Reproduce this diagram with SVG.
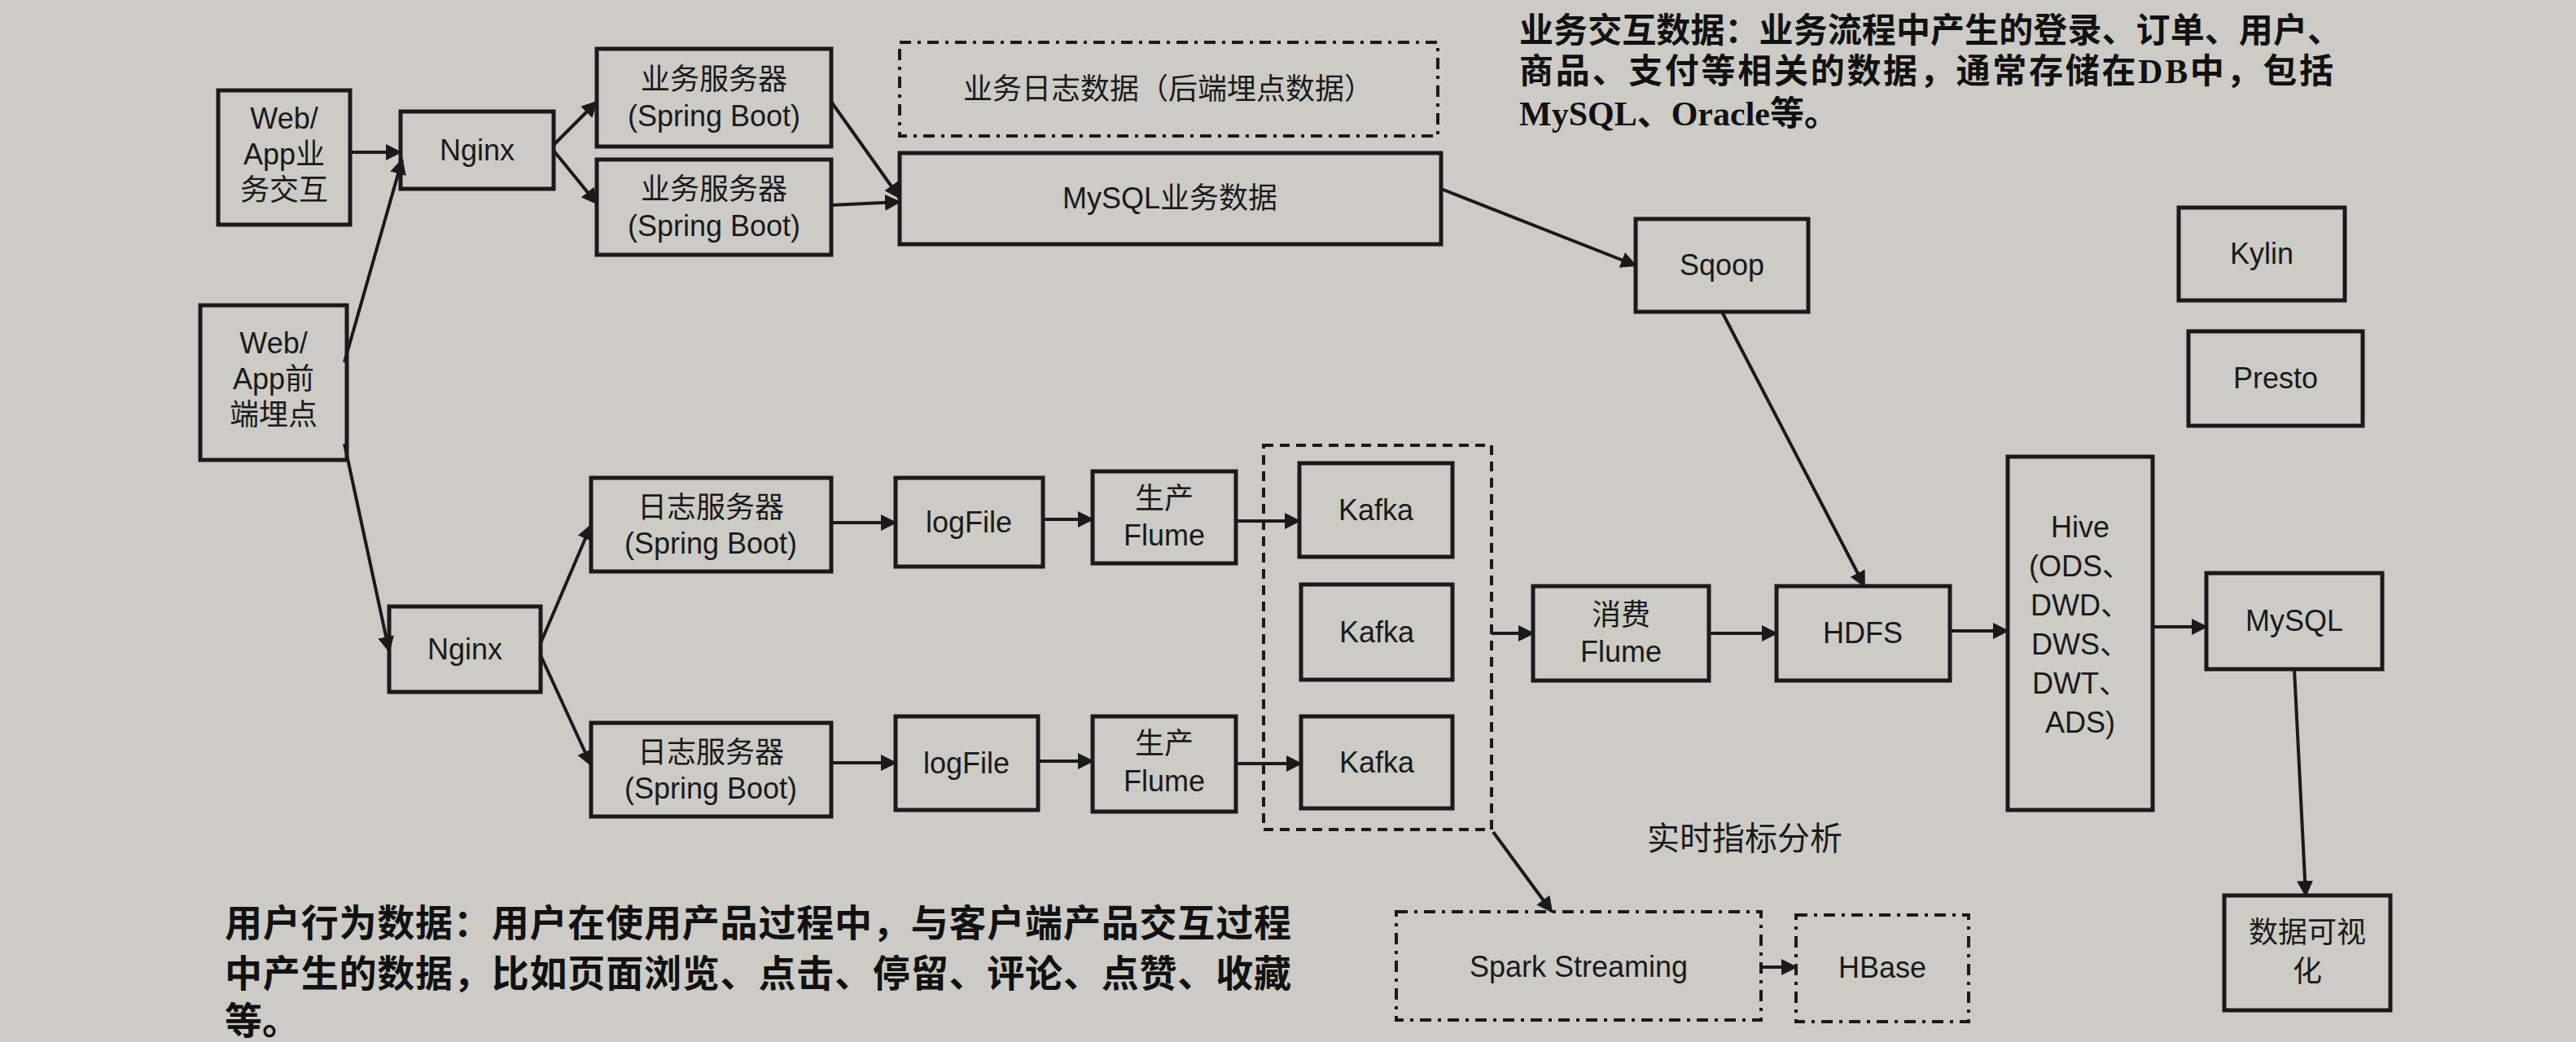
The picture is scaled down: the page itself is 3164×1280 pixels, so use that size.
<svg xmlns="http://www.w3.org/2000/svg" width="3164" height="1280" viewBox="0 0 3164 1280">
<style>
.b{fill:none;stroke:#1a1a1a;stroke-width:5}
.d{fill:none;stroke:#1a1a1a;stroke-width:4;stroke-dasharray:14 8 4 8}
.k{fill:none;stroke:#1a1a1a;stroke-width:4;stroke-dasharray:12 8}
.t{font-family:"Liberation Sans","Noto Sans CJK SC",sans-serif;font-size:36px;fill:#1a1a1a;text-anchor:middle}
.n{font-family:"Liberation Serif","Noto Sans CJK SC",serif;font-size:42px;font-weight:bold;fill:#111}
.c line{stroke:#1a1a1a;stroke-width:4;marker-end:url(#a)}
</style>
<defs><marker id="a" viewBox="0 0 10 10" refX="9" refY="5" markerWidth="5" markerHeight="5" orient="auto"><path d="M0,0L10,5L0,10z" fill="#1a1a1a"/></marker></defs>
<rect width="3164" height="1280" fill="#cdcbc6"/>
<g id="web1"><rect class="b" x="268" y="111" width="162" height="165"/><text class="t" x="349" y="158">Web/</text><text class="t" x="349" y="202">App业</text><text class="t" x="349" y="246">务交互</text></g>
<g id="web2"><rect class="b" x="246" y="375" width="180" height="190"/><text class="t" x="336" y="434">Web/</text><text class="t" x="336" y="478">App前</text><text class="t" x="336" y="522">端埋点</text></g>
<g id="nginx1"><rect class="b" x="492" y="137" width="188" height="95"/><text class="t" x="586" y="197">Nginx</text></g>
<g id="srv1"><rect class="b" x="733" y="60" width="288" height="120"/><text class="t" x="877" y="110">业务服务器</text><text class="t" x="877" y="155">(Spring Boot)</text></g>
<g id="srv2"><rect class="b" x="733" y="196" width="288" height="117"/><text class="t" x="877" y="245">业务服务器</text><text class="t" x="877" y="290">(Spring Boot)</text></g>
<g id="bizlog"><rect class="d" x="1105" y="52" width="661" height="115"/><text class="t" x="1435" y="122">业务日志数据（后端埋点数据）</text></g>
<g id="mysqlbiz"><rect class="b" x="1105" y="188" width="665" height="112"/><text class="t" x="1437" y="256">MySQL业务数据</text></g>
<g id="sqoop"><rect class="b" x="2009" y="269" width="212" height="114"/><text class="t" x="2115" y="338">Sqoop</text></g>
<g id="kylin"><rect class="b" x="2676" y="255" width="204" height="114"/><text class="t" x="2778" y="324">Kylin</text></g>
<g id="presto"><rect class="b" x="2688" y="407" width="214" height="116"/><text class="t" x="2795" y="477">Presto</text></g>
<g id="nginx2"><rect class="b" x="478" y="745" width="186" height="105"/><text class="t" x="571" y="810">Nginx</text></g>
<g id="log1"><rect class="b" x="726" y="587" width="295" height="115"/><text class="t" x="873" y="636">日志服务器</text><text class="t" x="873" y="680">(Spring Boot)</text></g>
<g id="lf1"><rect class="b" x="1100" y="587" width="181" height="109"/><text class="t" x="1190" y="654">logFile</text></g>
<g id="fl1"><rect class="b" x="1342" y="579" width="176" height="113"/><text class="t" x="1430" y="625">生产</text><text class="t" x="1430" y="670">Flume</text></g>
<g id="log2"><rect class="b" x="726" y="888" width="295" height="115"/><text class="t" x="873" y="937">日志服务器</text><text class="t" x="873" y="981">(Spring Boot)</text></g>
<g id="lf2"><rect class="b" x="1100" y="880" width="175" height="115"/><text class="t" x="1187" y="950">logFile</text></g>
<g id="fl2"><rect class="b" x="1342" y="880" width="176" height="117"/><text class="t" x="1430" y="926">生产</text><text class="t" x="1430" y="972">Flume</text></g>
<g id="kgroup"><rect class="k" x="1552" y="547" width="280" height="472"/></g>
<g id="kafka1"><rect class="b" x="1596" y="569" width="188" height="115"/><text class="t" x="1690" y="639">Kafka</text></g>
<g id="kafka2"><rect class="b" x="1598" y="718" width="186" height="117"/><text class="t" x="1691" y="789">Kafka</text></g>
<g id="kafka3"><rect class="b" x="1598" y="880" width="186" height="113"/><text class="t" x="1691" y="949">Kafka</text></g>
<g id="cflume"><rect class="b" x="1883" y="720" width="216" height="116"/><text class="t" x="1991" y="768">消费</text><text class="t" x="1991" y="813">Flume</text></g>
<g id="hdfs"><rect class="b" x="2182" y="720" width="213" height="116"/><text class="t" x="2288" y="790">HDFS</text></g>
<g id="hive"><rect class="b" x="2466" y="561" width="178" height="434"/><text class="t" x="2555" y="660">Hive</text><text class="t" x="2555" y="708">(ODS、</text><text class="t" x="2555" y="756">DWD、</text><text class="t" x="2555" y="804">DWS、</text><text class="t" x="2555" y="852">DWT、</text><text class="t" x="2555" y="900">ADS)</text></g>
<g id="mysql"><rect class="b" x="2710" y="704" width="216" height="118"/><text class="t" x="2818" y="775">MySQL</text></g>
<g id="viz"><rect class="b" x="2732" y="1100" width="204" height="141"/><text class="t" x="2834" y="1158">数据可视</text><text class="t" x="2834" y="1206">化</text></g>
<g id="spark"><rect class="d" x="1715" y="1120" width="448" height="133"/><text class="t" x="1939" y="1200">Spark Streaming</text></g>
<g id="hbase"><rect class="d" x="2206" y="1124" width="212" height="131"/><text class="t" x="2312" y="1201">HBase</text></g>
<text class="t" x="2143" y="1044" style="font-size:40px">实时指标分析</text>
<text class="n" x="1866" y="52" textLength="1010">业务交互数据：业务流程中产生的登录、订单、用户、</text>
<text class="n" x="1866" y="102" textLength="1000">商品、支付等相关的数据，通常存储在DB中，包括</text>
<text class="n" x="1866" y="154">MySQL、Oracle等。</text>
<text class="n" x="276" y="1150" textLength="1310" style="font-size:46px">用户行为数据：用户在使用产品过程中，与客户端产品交互过程</text>
<text class="n" x="276" y="1212" textLength="1310" style="font-size:46px">中产生的数据，比如页面浏览、点击、停留、评论、点赞、收藏</text>
<text class="n" x="276" y="1270" style="font-size:46px">等。</text>
<g class="c" id="connectors">
<line x1="430" y1="187" x2="492" y2="187"/>
<line x1="423" y1="445" x2="494" y2="196"/>
<line x1="423" y1="545" x2="478" y2="800"/>
<line x1="680" y1="178" x2="733" y2="125"/>
<line x1="680" y1="185" x2="733" y2="250"/>
<line x1="1021" y1="125" x2="1105" y2="243"/>
<line x1="1021" y1="252" x2="1105" y2="248"/>
<line x1="1770" y1="232" x2="2009" y2="326"/>
<line x1="2115" y1="383" x2="2290" y2="720"/>
<line x1="664" y1="790" x2="726" y2="645"/>
<line x1="664" y1="805" x2="726" y2="940"/>
<line x1="1021" y1="642" x2="1100" y2="642"/>
<line x1="1281" y1="638" x2="1342" y2="638"/>
<line x1="1518" y1="640" x2="1596" y2="640"/>
<line x1="1021" y1="937" x2="1100" y2="937"/>
<line x1="1275" y1="935" x2="1342" y2="935"/>
<line x1="1518" y1="938" x2="1598" y2="938"/>
<line x1="1832" y1="778" x2="1883" y2="778"/>
<line x1="2099" y1="778" x2="2182" y2="778"/>
<line x1="2395" y1="775" x2="2466" y2="775"/>
<line x1="2644" y1="770" x2="2710" y2="770"/>
<line x1="2818" y1="822" x2="2832" y2="1100"/>
<line x1="1834" y1="1022" x2="1906" y2="1120"/>
<line x1="2163" y1="1188" x2="2206" y2="1188"/>
</g>
</svg>
